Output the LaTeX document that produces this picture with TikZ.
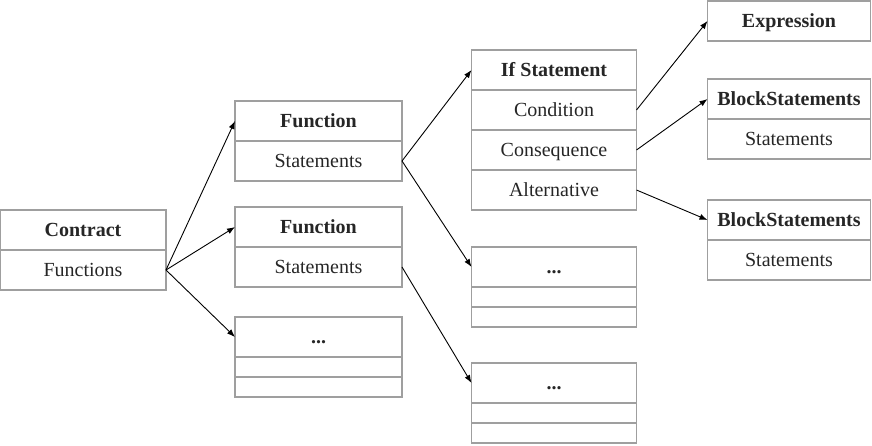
\documentclass[tikz,border=0pt]{standalone}
\usepackage{fontspec}
\setmainfont{Liberation Serif}
\usetikzlibrary{positioning,arrows.meta}

\begin{document}
\begin{tikzpicture}[x=0.5pt, y=-0.5pt,
    cell/.style={draw=gray!75, line width=0.6pt, minimum height=20pt, inner sep=0pt, outer sep=0pt, text height=7.5pt, text depth=1.5pt, text=black!85},
    head/.style={cell, font=\bfseries},
    thin/.style={cell, minimum height=10pt, text height=0pt, text depth=0pt},
    col1/.style={minimum width=83pt},
    col2/.style={minimum width=83.5pt},
    col3/.style={minimum width=82.5pt},
    col4/.style={minimum width=81.5pt},
    link/.style={-{Latex[length=4pt,width=3pt]}, line width=0.45pt}]
    \useasboundingbox (0,0) rectangle (872,445);

    % Contract
    \node[head, col1] (contract) at (83,230) {Contract};
    \node[cell, col1, below=0pt of contract] (contract-fns) {Functions};

    % Functions
    \node[head, col2] (fn1) at (318.5,121) {Function};
    \node[cell, col2, below=0pt of fn1] (fn1-body) {Statements};
    \node[head, col2] (fn2) at (318.5,227) {Function};
    \node[cell, col2, below=0pt of fn2] (fn2-body) {Statements};
    \node[head, col2] (fn3) at (318.5,337) {...};
    \node[thin, col2, below=0pt of fn3] (fn3-a) {};
    \node[thin, col2, below=0pt of fn3-a] (fn3-b) {};

    % If statement and the other statements
    \node[head, col3] (if) at (554,70) {If Statement};
    \node[cell, col3, below=0pt of if] (if-cond) {Condition};
    \node[cell, col3, below=0pt of if-cond] (if-cons) {Consequence};
    \node[cell, col3, below=0pt of if-cons] (if-alt) {Alternative};
    \node[head, col3] (st2) at (554,267) {...};
    \node[thin, col3, below=0pt of st2] (st2-a) {};
    \node[thin, col3, below=0pt of st2-a] (st2-b) {};
    \node[head, col3] (st3) at (554,383) {...};
    \node[thin, col3, below=0pt of st3] (st3-a) {};
    \node[thin, col3, below=0pt of st3-a] (st3-b) {};

    % Branches
    \node[head, col4] (expr) at (789,21) {Expression};
    \node[head, col4] (blk1) at (789,99) {BlockStatements};
    \node[cell, col4, below=0pt of blk1] (blk1-body) {Statements};
    \node[head, col4] (blk2) at (789,220) {BlockStatements};
    \node[cell, col4, below=0pt of blk2] (blk2-body) {Statements};

    % Connections
    \foreach \t in {fn1, fn2, fn3} \draw[link] (contract-fns.east) -- (\t.west);
    \foreach \t in {if, st2} \draw[link] (fn1-body.east) -- (\t.west);
    \draw[link] (fn2-body.east) -- (st3.west);
    \draw[link] (if-cond.east) -- (expr.west);
    \draw[link] (if-cons.east) -- (blk1.west);
    \draw[link] (if-alt.east) -- (blk2.west);
\end{tikzpicture}
\end{document}
